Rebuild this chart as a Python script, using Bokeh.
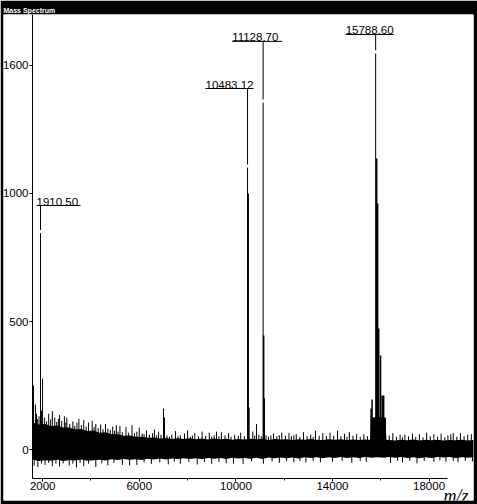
from bokeh.plotting import figure
from bokeh.models import FixedTicker, Label
from bokeh.core.properties import value
from bokeh.embed import file_html
from bokeh.resources import INLINE

# ---------------- data ----------------
# solid core of the baseline noise
band_mz = [1600, 1850, 2100, 2350, 2600, 2850, 3100, 3350, 3600, 3850,
           4100, 4350, 4600, 4850, 5100, 5350, 5600, 5850, 6100, 6350,
           6600, 6850, 7100, 7350, 7600, 7850, 8100, 8350, 8600, 8850,
           9100, 9350, 9600, 9850, 10100, 10350, 10600, 10850, 11100, 11350,
           11600, 11850, 12100, 12350, 12600, 12850, 13100, 13350, 13600, 13850,
           14100, 14350, 14600, 14850, 15100, 15350, 15560, 15590, 15850, 16200,
           16230, 16350, 16600, 16850, 17100, 17350, 17600, 17850, 18100, 18350,
           18600, 18850, 19100, 19350, 19600, 19850]
band_upper = [105, 98, 100, 92, 94, 86, 86, 78, 80, 72,
              74, 66, 68, 60, 60, 54, 55, 50, 50, 46,
              47, 43, 45, 41, 44, 41, 44, 40, 43, 39,
              43, 40, 42, 38, 41, 39, 42, 40, 41, 37,
              41, 39, 40, 37, 40, 38, 41, 38, 37, 40,
              38, 40, 37, 39, 37, 39, 38, 120, 130, 122,
              38, 37, 35, 38, 36, 39, 35, 38, 36, 38,
              35, 37, 36, 38, 35, 37]
band_lower = [-40, -45, -42, -44, -40, -45, -42, -43, -39, -44,
              -42, -40, -43, -38, -41, -37, -40, -38, -41, -36,
              -39, -35, -39, -35, -37, -34, -37, -34, -38, -33,
              -36, -33, -37, -32, -35, -33, -36, -32, -37, -31,
              -34, -31, -34, -31, -35, -30, -33, -30, -34, -30,
              -33, -29, -33, -30, -33, -29, -31, -32, -30, -32,
              -30, -29, -32, -29, -33, -30, -34, -30, -33, -29,
              -31, -29, -33, -30, -32, -30]

# individual noise spikes above the core
spike_mz = [1620, 1700, 1745, 1780, 1850, 1955, 1995, 2080, 2160, 2250,
            2330, 2400, 2500, 2580, 2650, 2700, 2790, 2900, 2960, 3000,
            3120, 3250, 3330, 3420, 3500, 3600, 3700, 3800, 3900, 4050,
            4130, 4200, 4300, 4400, 4500, 4600, 4700, 4800, 4900, 4980,
            5050, 5120, 5200, 5300, 5450, 5550, 5700, 5800, 5900, 6000,
            6120, 6200, 6300, 6420, 6550, 6630, 6720, 6800, 6900, 7003,
            7045, 7150, 7250, 7350, 7500, 7600, 7700, 7873, 8000, 8120,
            8200, 8300, 8450, 8600, 8750, 8900, 9000, 9100, 9200, 9300,
            9400, 9550, 9700, 9800, 9950, 10100, 10200, 10350, 10700, 10780,
            10854, 10950, 11050, 11250, 11350, 11450, 11558, 11700, 11800, 11900,
            12050, 12200, 12300, 12400, 12500, 12650, 12800, 12950, 13100, 13200,
            13297, 13450, 13600, 13750, 13900, 14050, 14208, 14350, 14500, 14600,
            14700, 14850, 15000, 15150, 15300, 15450, 16350, 16500, 16650, 16800,
            16900, 17000, 17150, 17314, 17450, 17600, 17750, 17900, 18050, 18200,
            18350, 18500, 18650, 18780, 18900, 19000, 19150, 19300, 19450, 19600,
            19750]
spike_int = [250, 176, 140, 120, 130, 152, 277, 125, 110, 140,
             118, 150, 125, 108, 120, 135, 112, 130, 105, 125,
             100, 110, 92, 105, 120, 96, 115, 90, 105, 112,
             88, 100, 84, 98, 80, 100, 82, 76, 90, 74,
             95, 70, 92, 68, 88, 66, 95, 64, 70, 85,
             62, 60, 75, 58, 64, 78, 56, 70, 58, 160,
             125, 55, 50, 58, 72, 52, 56, 62, 75, 50,
             55, 65, 52, 70, 54, 66, 50, 56, 70, 52,
             68, 55, 64, 50, 58, 54, 66, 52, 70, 55,
             100, 58, 52, 56, 50, 55, 62, 52, 56, 66,
             54, 65, 52, 56, 60, 50, 68, 52, 58, 50,
             74, 54, 64, 52, 66, 54, 74, 52, 62, 50,
             68, 54, 60, 50, 60, 52, 55, 64, 50, 58,
             48, 58, 52, 62, 50, 60, 48, 66, 52, 60,
             50, 62, 48, 55, 60, 64, 50, 64, 52, 58,
             60]
# noise dips below the core
dip_mz = [1650, 1800, 1950, 2100, 2250, 2400, 2550, 2700, 2850, 3100,
          3250, 3400, 3550, 3700, 3900, 4200, 4450, 4700, 4950, 5300,
          5600, 5900, 6200, 6500, 6850, 7200, 7450, 7700, 8050, 8400,
          8700, 9000, 9300, 9600, 9900, 10300, 10650, 11140, 11500, 11800,
          12100, 12400, 12650, 12900, 13200, 13500, 14000, 14400, 14800, 15150,
          15400, 16400, 16700, 16900, 17200, 17500, 17800, 18200, 18450, 18700,
          19000, 19200, 19500, 19800]
dip_int = [-62, -68, -55, -60, -52, -65, -55, -66, -54, -62,
           -55, -70, -52, -64, -55, -68, -54, -62, -52, -60,
           -62, -60, -50, -56, -50, -58, -48, -55, -48, -58,
           -48, -55, -48, -54, -55, -56, -46, -55, -46, -52,
           -45, -50, -44, -50, -44, -50, -48, -44, -52, -44,
           -48, -52, -44, -50, -44, -54, -44, -48, -42, -48,
           -44, -50, -44, -46]

# shoulder points next to the main peaks
shoulder_mz = [10510, 10540, 11150, 11175, 15600, 15640, 15700, 15830,
               15870, 15915, 15990, 16060, 16120, 16180]
shoulder_int = [1000, 164, 445, 200, 160, 195, 125, 1137,
                961, 473, 367, 211, 211, 125]

# labelled peaks
peak_mz = [1910.50, 10483.12, 11128.70, 15788.60]
peak_int = [845, 1101, 1355, 1547]
peak_text = ["1910.50", "10483.12", "11128.70", "15788.60"]

# axes
x_ticks = [2000, 6000, 10000, 14000, 18000]
x_tick_labels = ["2000", "6000", "10000", "14000", "18000"]
x_minor = [4000, 8000, 12000, 16000]
y_ticks = [0, 500, 1000, 1500]
y_tick_labels = ["0", "500", "1000", "1600"]

# ---------------- layout ----------------
W, H = 477, 504
L, R, T, B = 3, 4, 14, 4
FW, FH = W - L - R, H - T - B
X0, X1 = 378, 19840          # frame spans the whole white window area
Y0, Y1 = -199, 1699
X_AXIS_AT = 1580             # where the y axis sits
Y_AXIS_AT = -113             # where the x axis sits
mz_per_px = (X1 - X0) / FW
FONT = "Liberation Sans"

# peak label placement (layout, not data)
label_y = [953, 1410, 1594, 1621]       # height of the underline
label_dx = [-4, -42, -31, -30]          # px from the peak line to the text start
label_w = [44, 48, 50, 48]              # underline length in px
gap = 12

p = figure(width=W, height=H, x_range=(X0, X1), y_range=(Y0, Y1),
           output_backend="svg", toolbar_location=None,
           min_border_left=L, min_border_right=R, min_border_top=T, min_border_bottom=B,
           background_fill_color="white", border_fill_color="black",
           outline_line_color=None, title="Mass Spectrum")
p.title.text_color = "white"
p.title.text_font = FONT
p.title.text_font_size = "7px"
p.title.text_font_style = "bold"
p.title.align = "left"
p.title.standoff = 2
p.title.offset = 0
p.xgrid.visible = False
p.ygrid.visible = False

# axes (pinned inside the white area)
xa = p.xaxis[0]
xa.fixed_location = Y_AXIS_AT
xa.ticker = FixedTicker(ticks=x_ticks, minor_ticks=x_minor)
xa.major_label_overrides = {t: s for t, s in zip(x_ticks, x_tick_labels)}
xa.bounds = (X_AXIS_AT, 18760)
ya = p.yaxis[0]
ya.fixed_location = X_AXIS_AT
ya.ticker = FixedTicker(ticks=y_ticks)
ya.major_label_overrides = {t: s for t, s in zip(y_ticks, y_tick_labels)}
ya.bounds = (Y_AXIS_AT, Y1)
for ax in (xa, ya):
    ax.axis_line_color = "black"
    ax.axis_line_width = 1
    ax.major_tick_line_color = "black"
    ax.major_tick_in = 0
    ax.major_tick_out = 3
    ax.minor_tick_in = 0
    ax.minor_tick_out = 2
    ax.minor_tick_line_color = "black"
    ax.major_label_text_font = FONT
    ax.major_label_text_font_size = "11.5px"
    ax.major_label_text_color = "black"
    ax.major_label_standoff = 1
ya.minor_tick_line_color = None

# spectrum
p.varea(x=band_mz, y1=band_lower, y2=band_upper, fill_color="black")
p.segment(x0=spike_mz, y0=[0] * len(spike_mz), x1=spike_mz, y1=spike_int,
          line_color="black", line_width=1)
p.segment(x0=dip_mz, y0=[0] * len(dip_mz), x1=dip_mz, y1=dip_int,
          line_color="black", line_width=1)
p.segment(x0=shoulder_mz, y0=[0] * len(shoulder_mz), x1=shoulder_mz, y1=shoulder_int,
          line_color="black", line_width=1.5)
p.segment(x0=peak_mz, y0=[0] * len(peak_mz), x1=peak_mz, y1=peak_int,
          line_color="black", line_width=1)

# peak labels: connector, underline, text
p.segment(x0=peak_mz, y0=[v + gap for v in peak_int], x1=peak_mz, y1=label_y,
          line_color="black", line_width=1)
ul_x0 = [m + dx * mz_per_px for m, dx in zip(peak_mz, label_dx)]
ul_x1 = [a + w * mz_per_px for a, w in zip(ul_x0, label_w)]
p.segment(x0=ul_x0, y0=label_y, x1=ul_x1, y1=label_y, line_color="black", line_width=1)
p.text(x=peak_mz, y=label_y, text=peak_text, x_offset=label_dx, y_offset=0,
       text_font=value(FONT), text_font_size="11.5px", text_color="black",
       text_align="left", text_baseline="bottom")

# axis unit
p.add_layout(Label(x=FW - 30, y=5, x_units="screen", y_units="screen",
                   text="m/z", text_color="black", text_font="Liberation Serif",
                   text_font_size="18px", text_font_style="italic",
                   text_baseline="alphabetic"))

open("out.html", "w").write(file_html(p, INLINE))
